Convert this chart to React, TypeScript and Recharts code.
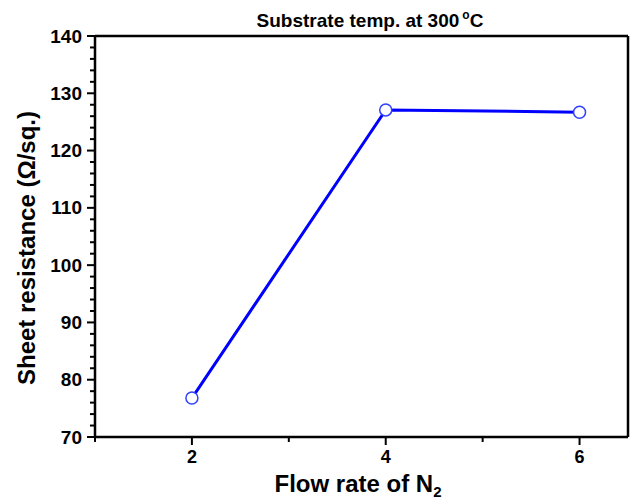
import React from "react";
import { LineChart, Line, XAxis, YAxis, Label } from "recharts";

const flowRates = [2, 4, 6];
const sheetResistance = [76.8, 127.1, 126.7];
const xTicks = [1, 2, 3, 4, 5, 6];
const xMajor = [2, 4, 6];
const yTicks = Array.from({ length: 36 }, (_, i) => 70 + i * 2);
const yMajor = [70, 80, 90, 100, 110, 120, 130, 140];

const data = flowRates.map((f, i) => ({ f, r: sheetResistance[i] }));

const FONT = "'Liberation Sans', Arial, sans-serif";

const YTick = (props: any) => {
  const { x, y, payload } = props;
  const major = yMajor.includes(payload.value);
  return (
    <g>
      <line x1={x} x2={x - (major ? 8 : 5)} y1={y} y2={y} stroke="#000" strokeWidth={2} />
      {major && (
        <text x={x - 13} y={y} textAnchor="end" dominantBaseline="central" fontFamily={FONT} fontWeight="bold" fontSize={19} fill="#000">
          {payload.value}
        </text>
      )}
    </g>
  );
};

const XTick = (props: any) => {
  const { x, y, payload } = props;
  const major = xMajor.includes(payload.value);
  return (
    <g>
      <line x1={x} x2={x} y1={y} y2={y + (major ? 8 : 5)} stroke="#000" strokeWidth={2} />
      {major && (
        <text x={x} y={y + 26} textAnchor="middle" fontFamily={FONT} fontWeight="bold" fontSize={18} fill="#000">
          {payload.value}
        </text>
      )}
    </g>
  );
};

export default function App() {
  return (
    <div style={{ position: "absolute", left: 0, top: 0, background: "#fff" }}>
      <LineChart width={633} height={501} data={data} margin={{ top: 35, right: 4, bottom: 63, left: 35 }}>
        <XAxis
          dataKey="f"
          type="number"
          domain={[1, 6.5]}
          ticks={xTicks}
          allowDataOverflow
          height={1}
          tickSize={0}
          tickMargin={0}
          tickLine={false}
          tick={<XTick />}
          axisLine={{ stroke: "#000", strokeWidth: 2.5 }}
          interval={0}
        >
          <Label
            content={() => (
              <text x={358} y={492} textAnchor="middle" fontFamily={FONT} fontWeight="bold" fontSize={24} fill="#000">
                Flow rate of N
                <tspan fontSize={15} dy={5}>2</tspan>
              </text>
            )}
          />
        </XAxis>
        <XAxis
          xAxisId="top"
          orientation="top"
          type="number"
          domain={[1, 6.5]}
          height={1}
          tick={false}
          tickLine={false}
          axisLine={{ stroke: "#000", strokeWidth: 2.5 }}
        >
          <Label
            content={() => (
              <text x={370} y={27} textAnchor="middle" fontFamily={FONT} fontWeight="bold" fontSize={19} fill="#000">
                Substrate temp. at 300
                <tspan fontSize={12} dy={-8} dx={3}>o</tspan>
                <tspan dy={8}>C</tspan>
              </text>
            )}
          />
        </XAxis>
        <YAxis
          type="number"
          domain={[70, 140]}
          ticks={yTicks}
          width={60}
          tickSize={0}
          tickMargin={0}
          tickLine={false}
          tick={<YTick />}
          axisLine={{ stroke: "#000", strokeWidth: 2.5 }}
          interval={0}
          allowDataOverflow
        >
          <Label
            content={() => (
              <text x={0} y={0} transform="translate(35 248) rotate(-90)" textAnchor="middle" fontFamily={FONT} fontWeight="bold" fontSize={24} fill="#000">
                Sheet resistance (Ω/sq.)
              </text>
            )}
          />
        </YAxis>
        <YAxis
          yAxisId="right"
          orientation="right"
          type="number"
          domain={[70, 140]}
          width={1}
          tick={false}
          tickLine={false}
          axisLine={{ stroke: "#000", strokeWidth: 2.5 }}
        />
        <Line
          dataKey="r"
          stroke="#0000ff"
          strokeWidth={3}
          dot={{ r: 6, fill: "#fff", stroke: "#3040ff", strokeWidth: 1.5 }}
          isAnimationActive={false}
        />
      </LineChart>
    </div>
  );
}
